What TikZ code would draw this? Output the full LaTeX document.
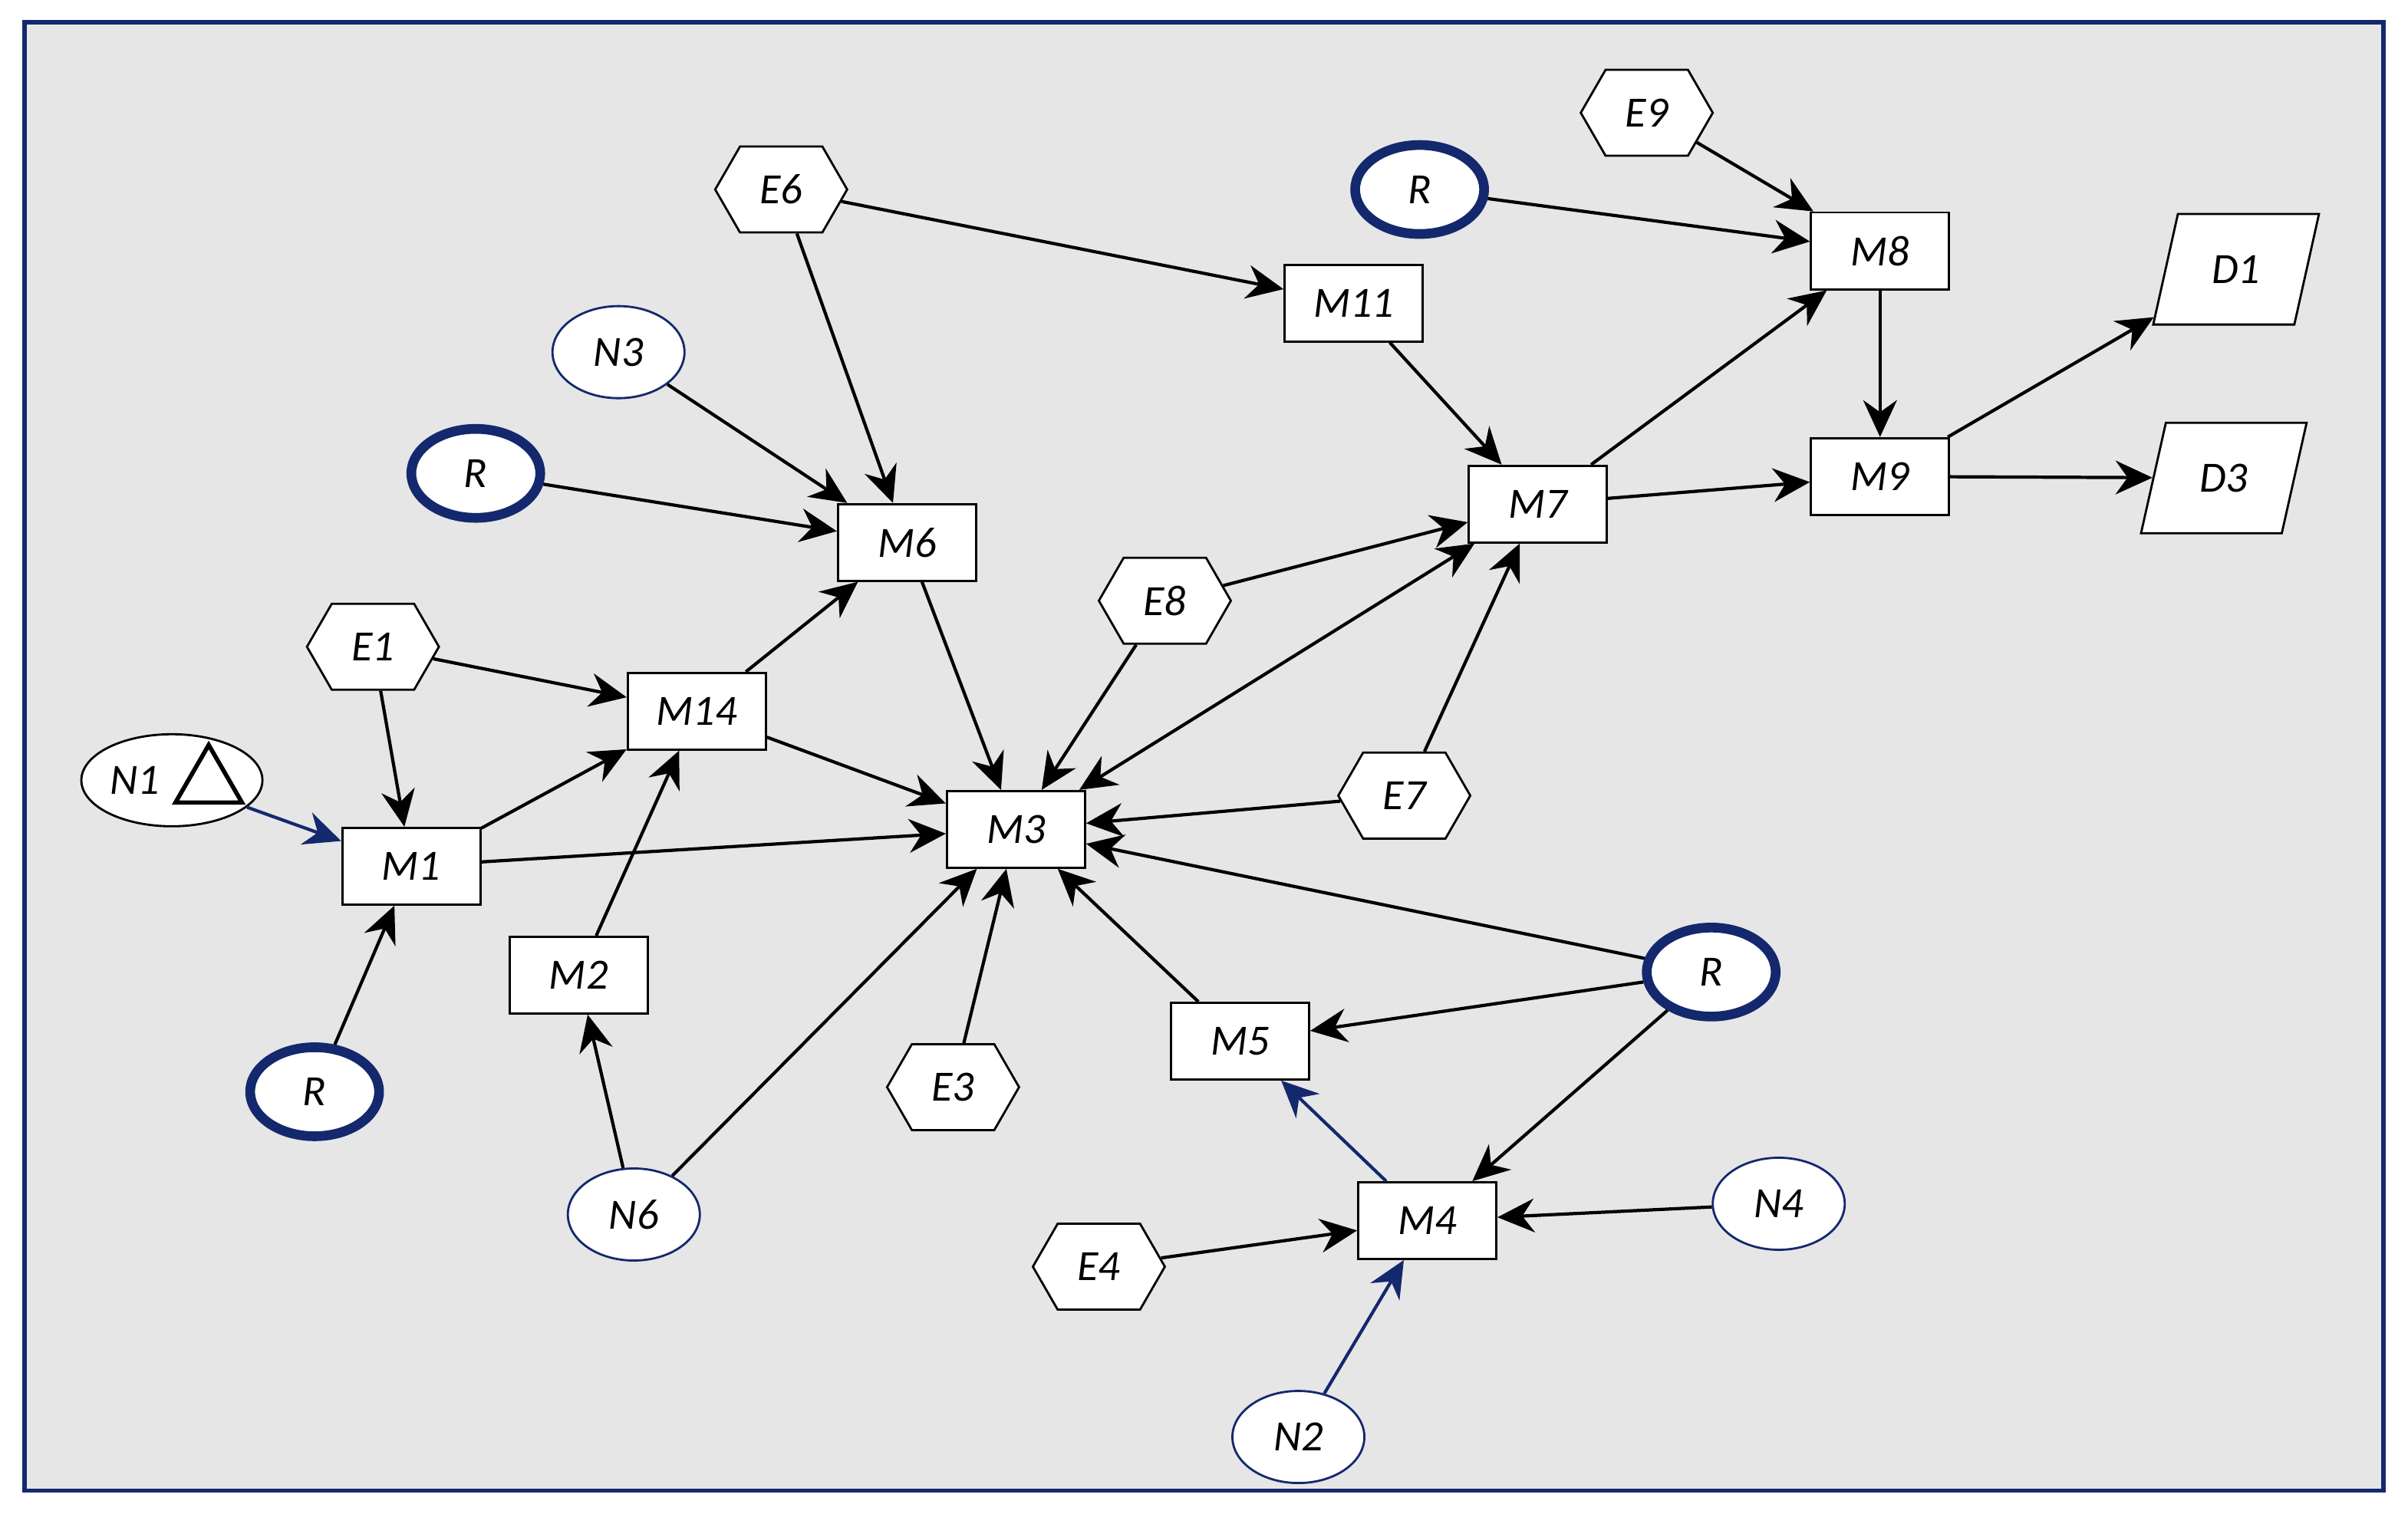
\documentclass[tikz,border=0pt]{standalone}
\usepackage{fontspec}
\setmainfont{Carlito}
\usetikzlibrary{shapes.geometric,shapes.symbols,arrows.meta}
\definecolor{myblue}{RGB}{20,40,110}
\definecolor{mygray}{RGB}{230,230,230}

\begin{document}
\begin{tikzpicture}[
    font=\fontsize{8}{9}\selectfont\itshape,
    box/.style={draw, fill=white, minimum width=0.9cm, minimum height=0.5cm},
    hexa/.style={draw, fill=white, signal, signal to=east and west, signal pointer angle=120,
        minimum width=0.86cm, minimum height=0.56cm, inner sep=1pt},
    nat/.style={draw=myblue, fill=white, ellipse, minimum width=0.86cm, minimum height=0.6cm, inner sep=0pt},
    res/.style={draw=myblue, line width=1.8pt, fill=white, ellipse, minimum width=0.84cm, minimum height=0.58cm, inner sep=0pt},
    data/.style={draw, fill=white, trapezium, trapezium left angle=72, trapezium right angle=108,
        trapezium stretches=true, minimum width=1.08cm, minimum height=0.72cm, inner sep=1pt},
    arr/.style={-{Stealth[length=2.4mm, width=2.2mm]}, line width=0.6pt},
    barr/.style={arr, draw=myblue},
]
    \useasboundingbox (0, 0) rectangle (15.69, 9.865);
    \draw[myblue, fill=mygray, line width=0.8pt] (0.16, 0.15) rectangle (15.53, 9.72);

    % processes
    \node[box] (m1) at (2.68, 4.22) {M1};
    \node[box] (m14) at (4.54, 5.23) {M14};
    \node[box] (m6) at (5.91, 6.33) {M6};
    \node[box] (m2) at (3.77, 3.51) {M2};
    \node[box] (m3) at (6.62, 4.46) {M3};
    \node[box] (m11) at (8.82, 7.89) {M11};
    \node[box] (m7) at (10.02, 6.58) {M7};
    \node[box] (m8) at (12.25, 8.23) {M8};
    \node[box] (m9) at (12.25, 6.76) {M9};
    \node[box] (m5) at (8.08, 3.08) {M5};
    \node[box] (m4) at (9.30, 1.91) {M4};

    % events
    \node[hexa] (e6) at (5.09, 8.63) {E6};
    \node[hexa] (e1) at (2.43, 5.65) {E1};
    \node[hexa] (e8) at (7.59, 5.95) {E8};
    \node[hexa] (e7) at (9.15, 4.68) {E7};
    \node[hexa] (e3) at (6.21, 2.78) {E3};
    \node[hexa] (e4) at (7.16, 1.61) {E4};
    \node[hexa] (e9) at (10.73, 9.13) {E9};

    % inputs
    \node[nat] (n3) at (4.03, 7.57) {N3};
    \node[nat] (n6) at (4.13, 1.95) {N6};
    \node[nat] (n4) at (11.59, 2.02) {N4};
    \node[nat] (n2) at (8.46, 0.50) {N2};
    \node[draw, fill=white, ellipse, minimum width=1.18cm, minimum height=0.6cm] (n1) at (1.12, 4.78) {};
    \node (n1t) at (0.88, 4.78) {N1};
    \node[draw, regular polygon, regular polygon sides=3, minimum size=0.5cm, inner sep=0pt, line width=0.8pt] (tri) at (1.36, 4.76) {};
    \node[res] (r1) at (3.10, 6.78) {R};
    \node[res] (r2) at (2.05, 2.75) {R};
    \node[res] (r3) at (9.25, 8.63) {R};
    \node[res] (r4) at (11.15, 3.53) {R};

    % outputs
    \node[data] (d1) at (14.57, 8.11) {D1};
    \node[data] (d3) at (14.49, 6.75) {D3};

    % connectors
    \draw[arr] (e6) -- (m11);
    \draw[arr] (e6) -- (m6);
    \draw[arr] (n3) -- (m6);
    \draw[arr] (r1) -- (m6);
    \draw[arr] (m14) -- (m6);
    \draw[arr] (e1) -- (m14);
    \draw[arr] (e1) -- (m1);
    \draw[barr] (n1) -- (m1);
    \draw[arr] (r2) -- (m1);
    \draw[arr] (m1) -- (m14);
    \draw[arr] (m1) -- (m3);
    \draw[arr] (m2) -- (m14);
    \draw[arr] (n6) -- (m2);
    \draw[arr] (n6) -- (m3);
    \draw[arr] (m14) -- (m3);
    \draw[arr] (m6) -- (m3);
    \draw[arr] (e8) -- (m3);
    \draw[arr] (e8) -- (m7);
    \draw[arr, {Stealth[length=2.4mm, width=2.2mm]}-{Stealth[length=2.4mm, width=2.2mm]}] (m3) -- (m7);
    \draw[arr] (e7) -- (m7);
    \draw[arr] (e7) -- (m3);
    \draw[arr] (e3) -- (m3);
    \draw[arr] (m5) -- (m3);
    \draw[arr] (r4) -- (m3);
    \draw[arr] (r4) -- (m5);
    \draw[arr] (r4) -- (m4);
    \draw[arr] (n4) -- (m4);
    \draw[arr] (e4) -- (m4);
    \draw[barr] (n2) -- (m4);
    \draw[barr] (m4) -- (m5);
    \draw[arr] (m11) -- (m7);
    \draw[arr] (m7) -- (m8);
    \draw[arr] (m7) -- (m9);
    \draw[arr] (r3) -- (m8);
    \draw[arr] (e9) -- (m8);
    \draw[arr] (m8) -- (m9);
    \draw[arr] (m9) -- (d1);
    \draw[arr] (m9) -- (d3);
\end{tikzpicture}
\end{document}
